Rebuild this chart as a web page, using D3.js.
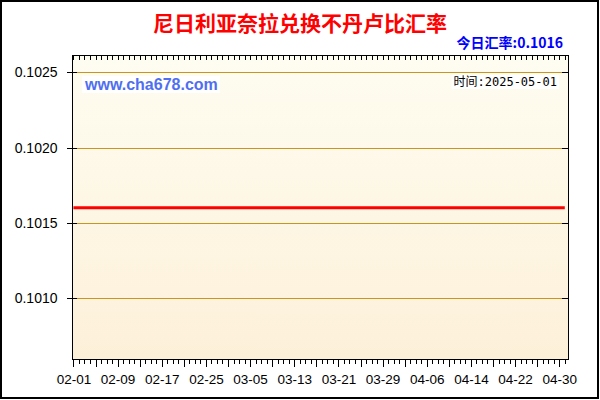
<!DOCTYPE html>
<html>
<head>
<meta charset="utf-8">
<script src="https://cdn.jsdelivr.net/npm/d3@7"></script>
<style>
  body { margin: 0; background: #fff; }
  svg { display: block; }
</style>
</head>
<body>
<svg id="chart" width="600" height="400"></svg>
<script>
const titleText = "尼日利亚奈拉兑换不丹卢比汇率";
const latestText = "今日汇率:0.1016";
const timeText = "时间:2025-05-01";
const siteText = "www.cha678.com";

// one value per day, 2025-02-01 .. 2025-05-01
const firstDay = "2025-02-01";
const rates = [
  0.1016, 0.1016, 0.1016, 0.1016, 0.1016, 0.1016, 0.1016, 0.1016, 0.1016, 0.1016,
  0.1016, 0.1016, 0.1016, 0.1016, 0.1016, 0.1016, 0.1016, 0.1016, 0.1016, 0.1016,
  0.1016, 0.1016, 0.1016, 0.1016, 0.1016, 0.1016, 0.1016, 0.1016, 0.1016, 0.1016,
  0.1016, 0.1016, 0.1016, 0.1016, 0.1016, 0.1016, 0.1016, 0.1016, 0.1016, 0.1016,
  0.1016, 0.1016, 0.1016, 0.1016, 0.1016, 0.1016, 0.1016, 0.1016, 0.1016, 0.1016,
  0.1016, 0.1016, 0.1016, 0.1016, 0.1016, 0.1016, 0.1016, 0.1016, 0.1016, 0.1016,
  0.1016, 0.1016, 0.1016, 0.1016, 0.1016, 0.1016, 0.1016, 0.1016, 0.1016, 0.1016,
  0.1016, 0.1016, 0.1016, 0.1016, 0.1016, 0.1016, 0.1016, 0.1016, 0.1016, 0.1016,
  0.1016, 0.1016, 0.1016, 0.1016, 0.1016, 0.1016, 0.1016, 0.1016, 0.1016, 0.1016
];
const xTickLabels = ["02-01", "02-09", "02-17", "02-25", "03-05", "03-13",
  "03-21", "03-29", "04-06", "04-14", "04-22", "04-30"];
const yTickValues = [0.1010, 0.1015, 0.1020, 0.1025];
const yTickLabels = ["0.1010", "0.1015", "0.1020", "0.1025"];
const yDomain = [0.100589, 0.102613];

const plot = { left: 72.5, right: 568, top: 55.5, bottom: 359.5 };
const numFont = "'Liberation Sans', Arial, sans-serif";
const cjkFont = "'Noto Sans CJK SC', sans-serif";

const svg = d3.select("#chart");
const parseDay = d3.timeParse("%Y-%m-%d");
const day0 = parseDay(firstDay);
const data = rates.map((v, i) => ({ date: d3.timeDay.offset(day0, i), value: v }));

const xScale = d3
  .scaleTime()
  .domain([d3.timeHour.offset(day0, -4), d3.timeHour.offset(day0, 89 * 24 + 14)])
  .range([plot.left, plot.right]);
const yScale = d3.scaleLinear().domain(yDomain).range([plot.bottom, plot.top]);

// outer frame
svg.append("rect")
  .attr("x", 1).attr("y", 1).attr("width", 597).attr("height", 397)
  .attr("fill", "#fff").attr("stroke", "#000").attr("stroke-width", 2);

// plot background
const grad = svg.append("defs").append("linearGradient")
  .attr("id", "bg").attr("x1", 0).attr("y1", 0).attr("x2", 0).attr("y2", 1);
grad.append("stop").attr("offset", "0%").attr("stop-color", "#fefdf1");
grad.append("stop").attr("offset", "100%").attr("stop-color", "#fdf0d9");

svg.append("rect")
  .attr("x", plot.left).attr("y", plot.top)
  .attr("width", plot.right - plot.left).attr("height", plot.bottom - plot.top)
  .attr("fill", "url(#bg)");

// grid lines
svg.append("g")
  .selectAll("line")
  .data(yTickValues)
  .join("line")
  .attr("x1", plot.left).attr("x2", plot.right)
  .attr("y1", (d) => Math.round(yScale(d)) + 0.5)
  .attr("y2", (d) => Math.round(yScale(d)) + 0.5)
  .attr("stroke", "#c8961e")
  .attr("stroke-width", 1);

// rate line
const line = d3.line()
  .x((d) => xScale(d.date))
  .y((d) => yScale(d.value));

svg.append("path")
  .datum(data)
  .attr("d", line)
  .attr("fill", "none")
  .attr("stroke", "#ff0000")
  .attr("stroke-width", 3);

// tick values
const allDays = d3.timeDay.range(day0, d3.timeDay.offset(day0, 91))
  .filter((d) => xScale(d) <= plot.right);
const majorDays = allDays.filter((d, i) => i % 4 === 0);
const labelDays = allDays.filter((d, i) => i % 8 === 0);
const minorY = d3.range(6, 27).map((k) => k / 10000);
const cleanAxis = (g) => {
  g.select(".domain").remove();
  g.selectAll("line").attr("stroke", "#000").attr("shape-rendering", "crispEdges");
};

// bottom axis
svg.append("g")
  .attr("transform", `translate(0,${plot.bottom})`)
  .call(d3.axisBottom(xScale).tickValues(allDays).tickSize(4).tickFormat(""))
  .call(cleanAxis);
svg.append("g")
  .attr("transform", `translate(0,${plot.bottom})`)
  .call(d3.axisBottom(xScale).tickValues(majorDays).tickSize(7).tickFormat(""))
  .call(cleanAxis);
svg.append("g")
  .attr("transform", `translate(0,${plot.bottom})`)
  .call(d3.axisBottom(xScale).tickValues(labelDays).tickSize(7).tickPadding(8)
    .tickFormat((d, i) => xTickLabels[i]))
  .call(cleanAxis)
  .call((g) => g.selectAll("text")
    .attr("font-family", numFont).attr("font-size", 13.5).attr("fill", "#000"));

// top axis, ticks inside
svg.append("g")
  .attr("transform", `translate(0,${plot.top})`)
  .call(d3.axisTop(xScale).tickValues(allDays).tickSize(-4).tickFormat(""))
  .call(cleanAxis);

// left axis
svg.append("g")
  .attr("transform", `translate(${plot.left},0)`)
  .call(d3.axisLeft(yScale).tickValues(minorY.filter((v) => v >= yDomain[0] && v <= yDomain[1]))
    .tickSize(3).tickFormat(""))
  .call(cleanAxis);
svg.append("g")
  .attr("transform", `translate(${plot.left},0)`)
  .call(d3.axisLeft(yScale).tickValues(yTickValues).tickSizeInner(6).tickSizeOuter(0)
    .tickPadding(9).tickFormat((d, i) => yTickLabels[i]))
  .call(cleanAxis)
  .call((g) => g.selectAll("line").attr("x2", -6).attr("x1", 4))
  .call((g) => g.selectAll("text")
    .attr("font-family", numFont).attr("font-size", 14).attr("fill", "#000"));

// right axis, ticks inside
svg.append("g")
  .attr("transform", `translate(${plot.right},0)`)
  .call(d3.axisRight(yScale).tickValues(minorY.filter((v) => v >= yDomain[0] && v <= yDomain[1]))
    .tickSize(-3).tickFormat(""))
  .call(cleanAxis);
svg.append("g")
  .attr("transform", `translate(${plot.right},0)`)
  .call(d3.axisRight(yScale).tickValues(yTickValues).tickSize(-6).tickFormat(""))
  .call(cleanAxis);

// plot border
svg.append("rect")
  .attr("x", plot.left).attr("y", plot.top)
  .attr("width", plot.right - plot.left).attr("height", plot.bottom - plot.top)
  .attr("fill", "none").attr("stroke", "#000").attr("stroke-width", 1)
  .attr("shape-rendering", "crispEdges");

// labels with white backing
const addBoxedText = (x, y, text, anchor, attrs) => {
  const g = svg.append("g");
  const bg = g.append("rect").attr("fill", "#fff");
  const t = g.append("text")
    .attr("x", x).attr("y", y).attr("text-anchor", anchor).text(text);
  Object.entries(attrs).forEach(([k, v]) => t.attr(k, v));
  const b = t.node().getBBox();
  bg.attr("x", b.x - 2).attr("y", b.y).attr("width", b.width + 4).attr("height", b.height);
  return t;
};

addBoxedText(85, 90, siteText, "start", {
  "font-family": numFont, "font-size": 16, "font-weight": "bold", fill: "#4f6ff0",
});
addBoxedText(557, 86, timeText, "end", {
  "font-family": "'DejaVu Sans Mono', 'Noto Sans CJK SC', monospace", "font-size": 12, fill: "#000",
});

svg.append("text")
  .attr("x", 300).attr("y", 31)
  .attr("text-anchor", "middle")
  .attr("font-family", cjkFont).attr("font-size", 21).attr("font-weight", "bold")
  .attr("fill", "#ff0000")
  .text(titleText);

svg.append("text")
  .attr("x", 563).attr("y", 48)
  .attr("text-anchor", "end")
  .attr("font-family", cjkFont).attr("font-size", 14).attr("font-weight", "bold")
  .attr("fill", "#0000ff")
  .text(latestText);
</script>
</body>
</html>
